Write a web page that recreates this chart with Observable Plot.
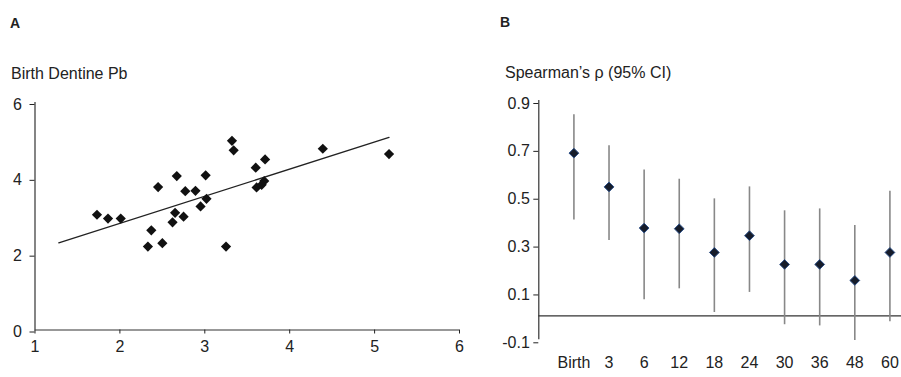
<!DOCTYPE html>
<html><head><meta charset="utf-8">
<script src="https://cdn.jsdelivr.net/npm/d3@7"></script>
<script src="https://cdn.jsdelivr.net/npm/@observablehq/plot@0.6"></script>
<style>
body{margin:0;background:#fff;}
#wrap{position:relative;width:901px;height:377px;overflow:hidden;font-family:"Liberation Sans",Arial,sans-serif;color:#222;}
.lbl{position:absolute;white-space:nowrap;line-height:1;}
#wrap svg{position:absolute;top:0;}
</style></head><body>
<div id="wrap">
 <div class="lbl" style="left:10px;top:16px;font-size:14px;font-weight:bold">A</div>
 <div class="lbl" style="left:11px;top:66px;font-size:16px">Birth Dentine Pb</div>
 <div class="lbl" style="left:500px;top:15px;font-size:14px;font-weight:bold">B</div>
 <div class="lbl" style="left:505px;top:65px;font-size:16px">Spearman’s ρ (95% CI)</div>
</div>
<script>
// Panel A: scatter of cord blood Pb vs birth dentine Pb
const cordBlood = [1.73,1.86,2.01,2.33,2.37,2.45,2.50,2.67,2.65,2.62,2.75,2.77,2.89,2.95,3.01,3.02,3.25,3.32,3.34,3.60,3.61,3.71,3.70,3.67,4.39,5.17];
const dentine   = [3.04,2.94,2.94,2.20,2.63,3.77,2.29,4.06,3.09,2.84,2.99,3.66,3.67,3.26,4.08,3.46,2.20,4.99,4.74,4.28,3.76,4.50,3.93,3.83,4.78,4.64];
const fitX = [1.28, 5.17];
const fitY = [2.30, 5.08];
const xTicksA = [1,2,3,4,5,6];
const yTicksA = [0,2,4,6];

// Panel B: Spearman's rho with 95% CI by age
const categories = ["Birth","3","6","12","18","24","30","36","48","60"];
const rho   = [0.680,0.539,0.367,0.364,0.265,0.335,0.215,0.215,0.148,0.265];
const lower = [0.401,0.315,0.067,0.113,0.014,0.098,-0.037,-0.042,-0.103,-0.025];
const upper = [0.840,0.711,0.610,0.571,0.489,0.539,0.439,0.447,0.378,0.521];
const yTicksB = [-0.1,0.1,0.3,0.5,0.7,0.9];

const style = {fontFamily:'"Liberation Sans", Arial, sans-serif', fontSize:"16px", color:"#222", background:"transparent", overflow:"visible"};

const fitData = fitX.map((x,i)=>({x, y: fitY[i]}));
const pts = cordBlood.map((x,i)=>({x, y: dentine[i]}));

const plotA = Plot.plot({
  width: 470, height: 377,
  marginLeft: 34.5, marginRight: 11, marginTop: 102, marginBottom: 47.5,
  style,
  x: {domain:[1,6], label:null},
  y: {domain:[0,6], label:null},
  marks: [
    Plot.ruleY([0], {stroke:"#333", strokeWidth:1.2}),
    Plot.ruleX([1], {stroke:"#333", strokeWidth:1.2}),
    Plot.axisX(xTicksA, {tickSize:4, tickPadding:7, tickFormat:d=>String(d), label:null}),
    Plot.axisY(yTicksA, {tickSize:5, tickPadding:8, tickFormat:d=>String(d), label:null, dy:2}),
    Plot.line(fitData, {x:"x", y:"y", stroke:"#222", strokeWidth:1.3}),
    Plot.dot(pts, {x:"x", y:"y", symbol:"diamond2", r:4.6, fill:"#111", stroke:null})
  ]
});
plotA.style.left = "0px";

const catIdx = categories.map((c,i)=>i+1);
const rowsB = categories.map((c,i)=>({i:i+1, rho:rho[i], lo:lower[i], hi:upper[i]}));

const plotB = Plot.plot({
  width: 431, height: 377,
  marginLeft: 68.3, marginRight: 0, marginTop: 100, marginBottom: 37.7,
  style,
  x: {domain:[0, 10.33], label:null},
  y: {domain:[-0.1, 0.9], label:null},
  marks: [
    Plot.ruleY([0], {stroke:"#333", strokeWidth:1.3}),
    Plot.ruleX([0], {stroke:"#333", strokeWidth:1.2}),
    Plot.axisY(yTicksB, {tickSize:5, tickPadding:4, tickFormat:d=>d.toFixed(1), label:null, dy:3}),
    Plot.axisX(catIdx, {tickSize:0, tickPadding:17, tickFormat:i=>categories[i-1], label:null}),
    Plot.ruleX(rowsB, {x:"i", y1:"lo", y2:"hi", stroke:"#888888", strokeWidth:1.6}),
    Plot.dot(rowsB, {x:"i", y:"rho", symbol:"diamond2", r:4.4, fill:"#161c2a", stroke:"#2b4f88", strokeWidth:1})
  ]
});
plotB.style.left = "470px";

const wrap = document.getElementById("wrap");
wrap.appendChild(plotA);
wrap.appendChild(plotB);
</script>
</body></html>
